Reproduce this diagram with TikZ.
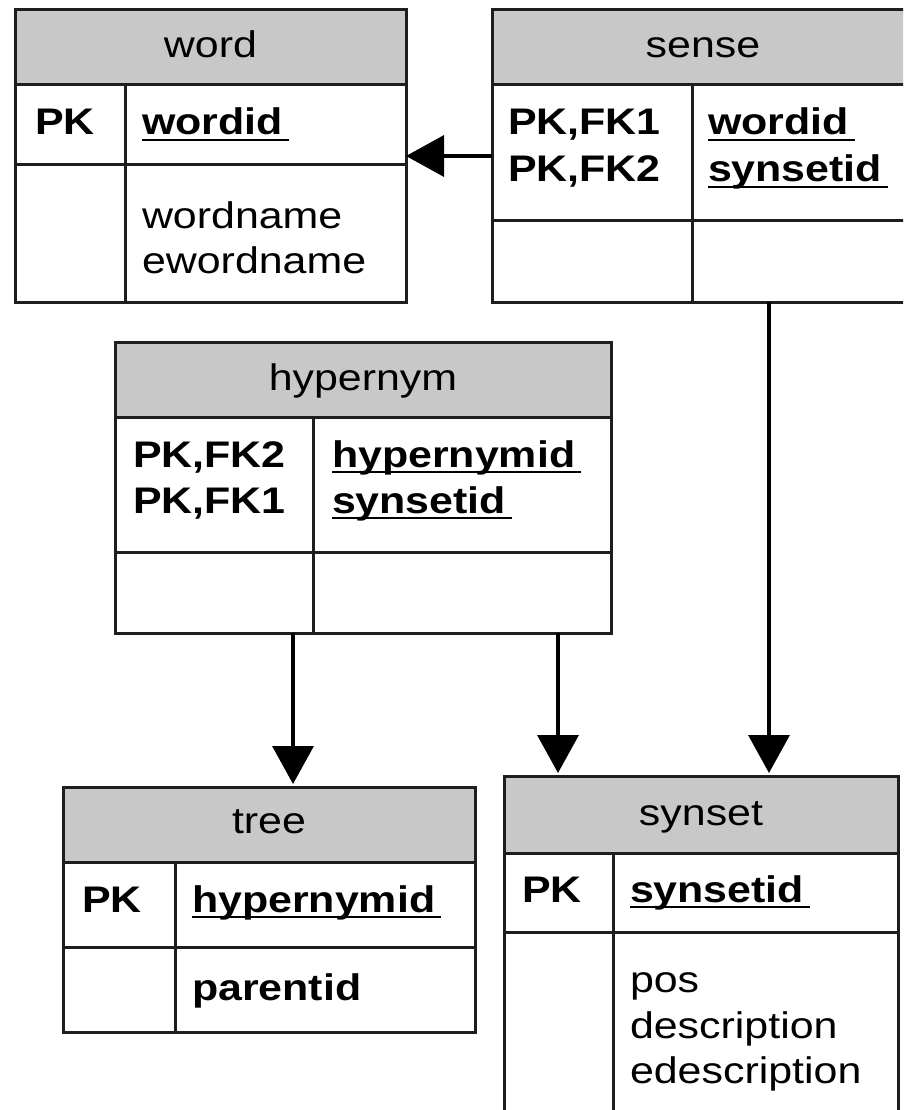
\documentclass[tikz,border=0pt]{standalone}
\usepackage{fontspec}
\setmainfont{Liberation Sans}[FakeStretch=1.16]
\usetikzlibrary{arrows.meta}
\definecolor{hdr}{RGB}{200,200,200}
\definecolor{ln}{RGB}{30,30,30}
\begin{document}
\begin{tikzpicture}[x=1pt,y=-1pt,
  every node/.style={inner sep=0pt, outer sep=0pt},
  ttl/.style={anchor=base, font=\fontsize{37}{40}\selectfont, text=black},
  fld/.style={anchor=base west, font=\fontsize{37}{40}\selectfont, text=black},
  key/.style={anchor=base west, font=\fontsize{37}{40}\selectfont\bfseries, text=black},
  tbl/.style={draw=ln, line width=3pt, rectangle},
  sep/.style={draw=ln, line width=3pt},
  ul/.style={draw=black, line width=2pt},
  arr/.style={draw=black, line width=3.5pt, -{Triangle[length=38pt,width=41pt]}}]
\clip (0,0) rectangle (903,1110);
\fill[white] (0,0) rectangle (903,1110);

% ---------- word ----------
\fill[hdr] (15,10) rectangle (406,85);
\node[tbl, minimum width=391pt, minimum height=292pt] (word) at (210.5,156) {};
\draw[sep] (15,85) -- (406,85);
\draw[sep] (15,165) -- (406,165);
\draw[sep] (125,85) -- (125,302);
\node[ttl] (w-t) at (210.5,58) {word};
\node[key] (w-pk) at (35,135) {PK};
\node[key] (w-k1) at (142,135) {wordid};
\draw[ul] ([yshift=-5pt]w-k1.base west) -- ([yshift=-5pt,xshift=6pt]w-k1.base east);
\node[fld] (w-f1) at (142,228) {wordname};
\node[fld] (w-f2) at (142,273) {ewordname};

% ---------- sense ----------
\fill[hdr] (492,10) rectangle (914,85);
\node[tbl, minimum width=422pt, minimum height=292pt] (sense) at (703,156) {};
\draw[sep] (492,85) -- (914,85);
\draw[sep] (492,220) -- (914,220);
\draw[sep] (692,85) -- (692,302);
\node[ttl] (s-t) at (703,58) {sense};
\node[key] (s-pk1) at (508,135) {PK,FK1};
\node[key] (s-pk2) at (508,182) {PK,FK2};
\node[key] (s-k1) at (708,135) {wordid};
\node[key] (s-k2) at (708,182) {synsetid};
\draw[ul] ([yshift=-5pt]s-k1.base west) -- ([yshift=-5pt,xshift=6pt]s-k1.base east);
\draw[ul] ([yshift=-5pt]s-k2.base west) -- ([yshift=-5pt,xshift=6pt]s-k2.base east);

% ---------- hypernym ----------
\fill[hdr] (115,342) rectangle (611,417);
\node[tbl, minimum width=496pt, minimum height=291pt] (hyper) at (363,487.5) {};
\draw[sep] (115,417) -- (611,417);
\draw[sep] (115,552) -- (611,552);
\draw[sep] (313,417) -- (313,633);
\node[ttl] (h-t) at (363,390) {hypernym};
\node[key] (h-pk1) at (133,467) {PK,FK2};
\node[key] (h-pk2) at (133,513) {PK,FK1};
\node[key] (h-k1) at (332,467) {hypernymid};
\node[key] (h-k2) at (332,513) {synsetid};
\draw[ul] ([yshift=-5pt]h-k1.base west) -- ([yshift=-5pt,xshift=6pt]h-k1.base east);
\draw[ul] ([yshift=-5pt]h-k2.base west) -- ([yshift=-5pt,xshift=6pt]h-k2.base east);

% ---------- tree ----------
\fill[hdr] (63,787) rectangle (475,862);
\node[tbl, minimum width=412pt, minimum height=245pt] (tree) at (269,909.5) {};
\draw[sep] (63,862) -- (475,862);
\draw[sep] (63,947) -- (475,947);
\draw[sep] (175,862) -- (175,1032);
\node[ttl] (t-t) at (269,833) {tree};
\node[key] (t-pk) at (82,912) {PK};
\node[key] (t-k1) at (192,912) {hypernymid};
\draw[ul] ([yshift=-5pt]t-k1.base west) -- ([yshift=-5pt,xshift=6pt]t-k1.base east);
\node[key] (t-f1) at (192,1000) {parentid};

% ---------- synset ----------
\fill[hdr] (504,776) rectangle (898,853);
\node[tbl, minimum width=394pt, minimum height=424pt] (synset) at (701,988) {};
\draw[sep] (504,853) -- (898,853);
\draw[sep] (504,932) -- (898,932);
\draw[sep] (613,853) -- (613,1200);
\node[ttl] (y-t) at (701,825) {synset};
\node[key] (y-pk) at (522,902) {PK};
\node[key] (y-k1) at (630,902) {synsetid};
\draw[ul] ([yshift=-5pt]y-k1.base west) -- ([yshift=-5pt,xshift=6pt]y-k1.base east);
\node[fld] (y-f1) at (630,992) {pos};
\node[fld] (y-f2) at (630,1038) {description};
\node[fld] (y-f3) at (630,1083) {edescription};

% ---------- connectors ----------
\coordinate (tree-in) at (293,787);
\coordinate (syn-in1) at (558,776);
\coordinate (syn-in2) at (769,776);
\draw[arr] (sense.west) -- (word.east);
\draw[arr, shorten >=3pt] (hyper.south -| tree-in) -- (tree-in);
\draw[arr, shorten >=3pt] (hyper.south -| syn-in1) -- (syn-in1);
\draw[arr, shorten >=3pt] (sense.south -| syn-in2) -- (syn-in2);
\end{tikzpicture}
\end{document}
